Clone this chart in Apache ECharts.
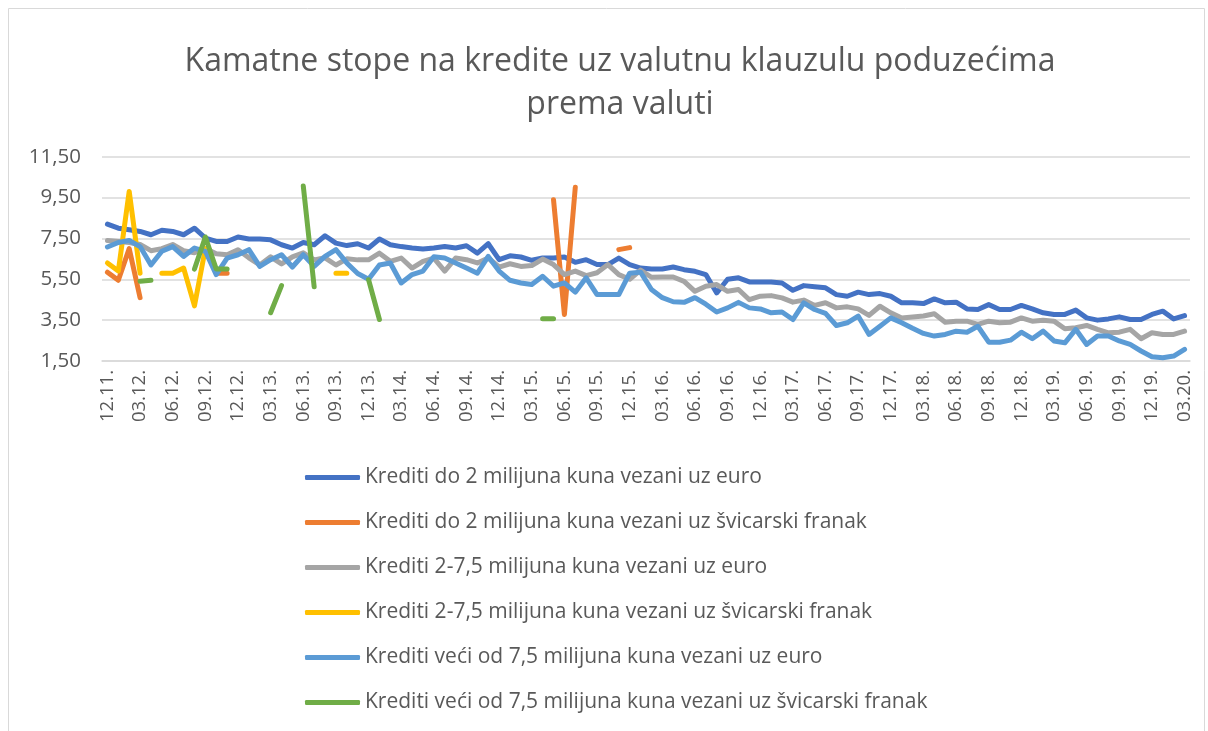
<!DOCTYPE html>
<html>
<head>
<meta charset="utf-8">
<title>Kamatne stope</title>
<script src="https://cdn.jsdelivr.net/npm/echarts@6/dist/echarts.min.js"></script>
<style>
  html, body { margin: 0; padding: 0; background: #fff; }
  #chart { width: 1208px; height: 731px; }
</style>
</head>
<body>
<div id="chart"></div>
<script>
// mjeseci 12.11. - 03.20.
const months = [];
for (let y = 2011, m = 12; y < 2020 || (y === 2020 && m <= 3); m++) {
  if (m > 12) { m = 1; y++; }
  months.push(String(m).padStart(2, '0') + '.' + String(y).slice(2) + '.');
}

const seriesNames = [
  'Krediti do 2 milijuna kuna vezani uz euro',
  'Krediti do 2 milijuna kuna vezani uz švicarski franak',
  'Krediti 2-7,5 milijuna kuna vezani uz euro',
  'Krediti 2-7,5 milijuna kuna vezani uz švicarski franak',
  'Krediti veći od 7,5 milijuna kuna vezani uz euro',
  'Krediti veći od 7,5 milijuna kuna vezani uz švicarski franak'
];

// do 2 mil, euro
const euroSmall = [
  8.2, 8.0, 7.92, 7.84, 7.68, 7.9, 7.84, 7.68, 8.0, 7.52, 7.35, 7.35,
  7.57, 7.47, 7.47, 7.43, 7.19, 7.03, 7.3, 7.19, 7.63, 7.27, 7.15, 7.24, 7.03,
  7.47, 7.19, 7.1, 7.03, 6.98, 7.03, 7.1, 7.03, 7.14, 6.78, 7.24, 6.46,
  6.65, 6.59, 6.43, 6.54, 6.54, 6.59, 6.33, 6.46, 6.22, 6.22, 6.54, 6.22,
  6.05, 6.0, 6.0, 6.1, 5.97, 5.89, 5.73, 4.83, 5.5, 5.57, 5.37, 5.37, 5.37,
  5.32, 4.96, 5.19, 5.13, 5.08, 4.75, 4.67, 4.87, 4.75, 4.8, 4.67, 4.35, 4.35,
  4.31, 4.54, 4.35, 4.38, 4.05, 4.02, 4.26, 4.02, 4.02, 4.22, 4.05, 3.86,
  3.78, 3.78, 3.99, 3.61, 3.5, 3.56, 3.66, 3.53, 3.53, 3.78, 3.94, 3.56, 3.72
];
// do 2 mil, CHF
const chfSmall = [
  5.85, 5.45, 7.0, 4.6, null, null, null, null, null, null, 5.8, 5.8,
  null, null, null, null, null, null, null, null, null, null, null, null, null,
  null, null, null, null, null, null, null, null, null, null, null, null,
  null, null, null, null, 9.39, 3.78, 10.0, null, null, null, 6.95, 7.05,
  null, null, null, null, null, null, null, null, null, null, null, null, null,
  null, null, null, null, null, null, null, null, null, null, null, null, null,
  null, null, null, null, null, null, null, null, null, null, null, null,
  null, null, null, null, null, null, null, null, null, null, null, null, null
];
// 2-7,5 mil, euro
const euroMid = [
  7.4, 7.35, 7.3, 7.2, 6.9, 7.0, 7.2, 6.9, 6.8, 7.0, 6.75, 6.7,
  6.95, 6.55, 6.2, 6.6, 6.25, 6.6, 6.8, 6.45, 6.55, 6.2, 6.5, 6.45, 6.45,
  6.78, 6.38, 6.54, 6.05, 6.38, 6.54, 5.9, 6.54, 6.46, 6.3, 6.54, 6.1,
  6.26, 6.13, 6.17, 6.49, 6.22, 5.73, 5.9, 5.68, 5.82, 6.22, 5.73, 5.5,
  5.95, 5.6, 5.61, 5.61, 5.4, 4.91, 5.16, 5.24, 4.91, 5.0, 4.5, 4.67, 4.7,
  4.59, 4.38, 4.48, 4.22, 4.35, 4.1, 4.15, 4.05, 3.73, 4.18, 3.86, 3.61, 3.65,
  3.7, 3.81, 3.4, 3.45, 3.45, 3.29, 3.45, 3.37, 3.4, 3.61, 3.45, 3.5,
  3.45, 3.08, 3.13, 3.24, 3.05, 2.88, 2.91, 3.05, 2.59, 2.88, 2.8, 2.8, 2.96
];
// 2-7,5 mil, CHF
const chfMid = [
  6.3, 5.9, 9.8, 5.8, null, 5.8, 5.8, 6.05, 4.2, 7.0, null, null,
  null, null, null, null, null, null, null, null, null, 5.8, 5.8, null, null,
  null, null, null, null, null, null, null, null, null, null, null, null,
  null, null, null, null, null, null, null, null, null, null, null, null,
  null, null, null, null, null, null, null, null, null, null, null, null, null,
  null, null, null, null, null, null, null, null, null, null, null, null, null,
  null, null, null, null, null, null, null, null, null, null, null, null,
  null, null, null, null, null, null, null, null, null, null, null, null, null
];
// veći od 7,5 mil, euro
const euroLarge = [
  7.08, 7.3, 7.4, 7.1, 6.2, 6.87, 7.1, 6.62, 7.03, 6.87, 5.73, 6.54,
  6.7, 6.95, 6.13, 6.46, 6.7, 6.1, 6.7, 6.13, 6.62, 6.95, 6.3, 5.78, 5.5,
  6.2, 6.3, 5.32, 5.73, 5.9, 6.6, 6.54, 6.3, 6.05, 5.8, 6.62, 5.9,
  5.45, 5.32, 5.24, 5.65, 5.16, 5.32, 4.87, 5.57, 4.75, 4.75, 4.75, 5.8,
  5.85, 5.0, 4.6, 4.4, 4.37, 4.6, 4.28, 3.9, 4.1, 4.37, 4.1, 4.05, 3.86,
  3.9, 3.53, 4.35, 4.02, 3.83, 3.24, 3.37, 3.7, 2.8, 3.2, 3.61, 3.37, 3.1,
  2.85, 2.72, 2.8, 2.96, 2.91, 3.2, 2.42, 2.42, 2.52, 2.91, 2.59, 2.96,
  2.48, 2.39, 3.05, 2.31, 2.72, 2.72, 2.48, 2.31, 1.99, 1.71, 1.66, 1.74, 2.07
];
// veći od 7,5 mil, CHF
const chfLarge = [
  null, null, null, 5.4, 5.45, null, null, null, 6.0, 7.57, 6.0, 6.0,
  null, null, null, 3.86, 5.19, null, 10.07, 5.13, null, null, null, null, 5.48,
  3.53, null, null, null, null, null, null, null, null, null, null, null,
  null, null, null, 3.57, 3.57, null, null, null, null, null, null, null,
  null, null, null, null, null, null, null, null, null, null, null, null, null,
  null, null, null, null, null, null, null, null, null, null, null, null, null,
  null, null, null, null, null, null, null, null, null, null, null, null,
  null, null, null, null, null, null, null, null, null, null, null, null, null
];

const seriesData = [euroSmall, chfSmall, euroMid, chfMid, euroLarge, chfLarge];
const colors = ['#4472C4', '#ED7D31', '#A5A5A5', '#FFC000', '#5B9BD5', '#70AD47'];
const yTicks = { min: 1.5, max: 11.5, step: 2 };

const font = "'Open Sans', 'Noto Sans', sans-serif";
const textColor = '#595959';
const gridColor = '#D9D9D9';

const myChart = echarts.init(document.getElementById('chart'));

const option = {
  animation: false,
  color: colors,
  title: {
    text: 'Kamatne stope na kredite uz valutnu klauzulu poduzećima\nprema valuti',
    left: 615,
    top: 35,
    textAlign: 'center',
    textStyle: {
      fontFamily: font,
      fontSize: 32,
      fontWeight: 'normal',
      color: textColor,
      lineHeight: 43
    }
  },
  legend: {
    orient: 'vertical',
    left: 300,
    top: 462,
    itemWidth: 55,
    itemHeight: 5,
    itemGap: 24,
    icon: 'roundRect',
    textStyle: { fontFamily: font, fontSize: 21, color: textColor },
    data: seriesNames
  },
  grid: {
    left: 102,
    right: 18,
    top: 156.7,
    bottom: 370,
    containLabel: false
  },
  xAxis: {
    type: 'category',
    data: months,
    boundaryGap: true,
    axisLine: { lineStyle: { color: gridColor, width: 1.5 } },
    axisTick: { show: false },
    axisLabel: {
      interval: 2,
      rotate: 90,
      margin: 9,
      fontFamily: font,
      fontSize: 18.5,
      color: textColor
    }
  },
  yAxis: {
    type: 'value',
    min: yTicks.min,
    max: yTicks.max,
    interval: yTicks.step,
    axisLine: { show: false },
    axisTick: { show: false },
    splitLine: { lineStyle: { color: gridColor, width: 1.5 } },
    axisLabel: {
      margin: 21,
      fontFamily: font,
      fontSize: 20.5,
      color: textColor,
      formatter: v => v.toFixed(2).replace('.', ',')
    }
  },
  graphic: [{
    type: 'rect',
    shape: { x: 8.5, y: 8.5, width: 1196, height: 760 },
    style: { fill: 'none', stroke: gridColor, lineWidth: 1 },
    silent: true
  }],
  series: seriesNames.map((name, i) => ({
    name,
    type: 'line',
    data: seriesData[i],
    showSymbol: false,
    connectNulls: false,
    lineStyle: { width: 5, cap: 'round', join: 'round' },
    emphasis: { disabled: true }
  }))
};

myChart.setOption(option);
</script>
</body>
</html>
